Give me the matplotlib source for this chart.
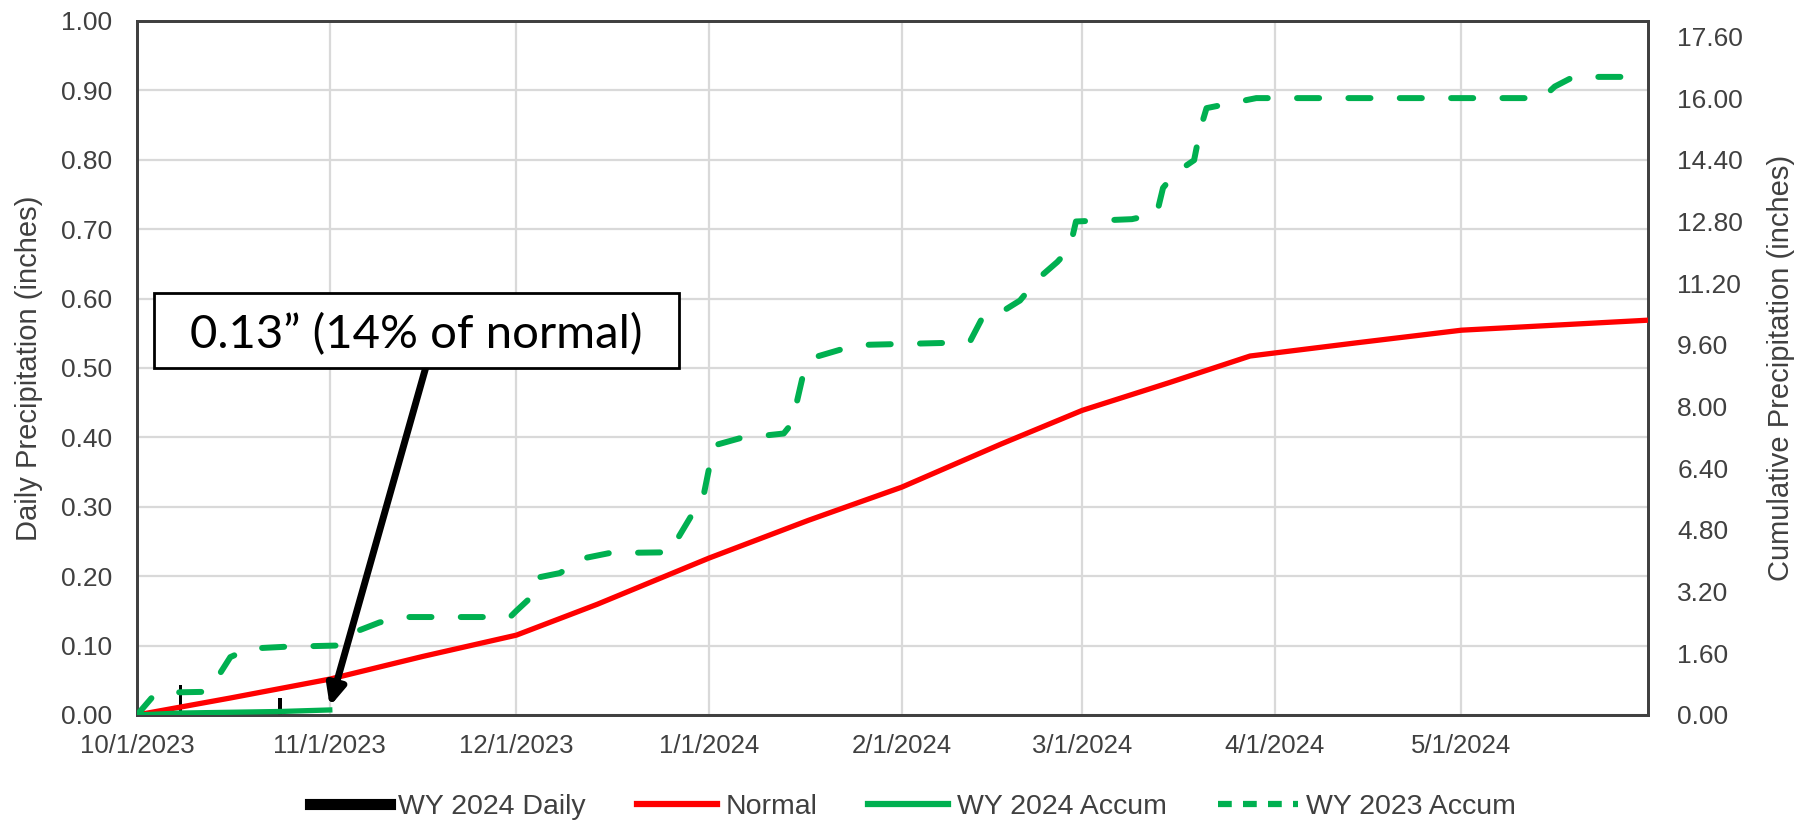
import matplotlib
import matplotlib.pyplot as plt
import pandas as pd
from matplotlib.lines import Line2D
from matplotlib.patches import Rectangle

matplotlib.use('Agg')

plt.rcParams['font.family'] = ['Liberation Sans', 'DejaVu Sans']

# days since 10/1/2023
start = pd.Timestamp('2023-10-01')
end = pd.Timestamp('2024-05-31')

month_ticks = ['2023-10-01', '2023-11-01', '2023-12-01', '2024-01-01',
               '2024-02-01', '2024-03-01', '2024-04-01', '2024-05-01']
month_labels = ['10/1/2023', '11/1/2023', '12/1/2023', '1/1/2024',
                '2/1/2024', '3/1/2024', '4/1/2024', '5/1/2024']

daily_days = [7, 23]
daily_vals = [0.043, 0.024]

normal_days = [0, 15, 31, 46, 61, 74, 92, 108, 123, 139, 152, 166, 179, 196, 213, 243]
normal_vals = [0, 0.44, 0.93, 1.52, 2.07, 2.87, 4.07, 5.05, 5.91, 7.03, 7.9, 8.62,
               9.31, 9.65, 9.98, 10.24]

wy24_days = [0, 7, 23, 31]
wy24_vals = [0, 0.05, 0.09, 0.13]

wy23_days = [0, 2.5, 4, 11, 13, 15, 18, 24, 32, 35, 39, 43, 60, 61, 63, 64, 68, 72,
             76, 86, 87, 89, 91, 92, 93, 97, 104, 105, 106, 107, 109, 113, 117, 130,
             134, 136, 139, 142, 145, 148, 150, 151, 160, 164, 165, 167, 170, 171,
             172, 176, 180, 226, 228, 231, 243]
wy23_vals = [0, 0.47, 0.58, 0.6, 0.99, 1.5, 1.72, 1.77, 1.8, 2.15, 2.4, 2.54, 2.54,
             2.7, 3.0, 3.55, 3.68, 4.07, 4.2, 4.22, 4.59, 5.13, 5.6, 6.4, 7.0, 7.18,
             7.3, 7.5, 8.04, 8.74, 9.28, 9.47, 9.6, 9.65, 9.7, 10.32, 10.45, 10.75,
             11.33, 11.75, 12.1, 12.8, 12.86, 13.0, 13.67, 14.06, 14.39, 15.2, 15.74,
             15.87, 16.0, 16.0, 16.3, 16.55, 16.55]

left_ticks = [0, 0.1, 0.2, 0.3, 0.4, 0.5, 0.6, 0.7, 0.8, 0.9, 1.0]
right_ticks = [0, 1.6, 3.2, 4.8, 6.4, 8.0, 9.6, 11.2, 12.8, 14.4, 16.0, 17.6]

green = '#00B050'
grid_c = '#d9d9d9'
spine_c = '#404040'


def to_dates(days):
    return start + pd.to_timedelta(days, unit='D')


fig = plt.figure(figsize=(18.15, 8.33), dpi=100)
ax = fig.add_axes([0.0755, 0.1417, 0.8325, 0.8331])
ax2 = ax.twinx()

ax.bar(to_dates(daily_days), daily_vals, width=0.5, color='black', zorder=3)

ax2.plot(to_dates(normal_days), normal_vals, color='red', lw=3.8, zorder=3)
ax2.plot(to_dates(wy24_days), wy24_vals, color=green, lw=3.8, zorder=4)
ax2.plot(to_dates(wy23_days), wy23_vals, color=green, lw=4.3,
         linestyle=(0, (3.7, 4.9)), dash_capstyle='round', zorder=3)

ax.set_xlim(start, end)
ax.set_ylim(0, 1.0)
ax2.set_ylim(0, 18.0)

ax.set_xticks(pd.to_datetime(month_ticks))
ax.set_xticklabels(month_labels)
ax.set_yticks(left_ticks)
ax.set_yticklabels(['%.2f' % v for v in left_ticks])
ax2.set_yticks(right_ticks)
ax2.set_yticklabels(['%.2f' % v for v in right_ticks])

ax.tick_params(axis='x', length=0, pad=14, labelsize=18.5, colors='#404040')
ax.tick_params(axis='y', length=0, pad=18, labelsize=19, colors='#404040')
ax2.tick_params(axis='y', length=0, pad=21, labelsize=19, colors='#404040')

ax.grid(True, color=grid_c, lw=1.6, zorder=0)
ax.set_axisbelow(True)

for a in (ax, ax2):
    for s in a.spines.values():
        s.set_color(spine_c)
        s.set_linewidth(2)

ax.set_ylabel('Daily Precipitation (inches)', fontsize=21, color='#404040')
ax.yaxis.set_label_coords(-0.062, 0.5)
ax2.set_ylabel('Cumulative Precipitation (inches)', fontsize=21, color='#404040',
               rotation=90)
ax2.yaxis.set_label_coords(1.079, 0.5)

# callout box and arrow
box = Rectangle((0.0113, 0.5), 0.3474, 0.108, transform=ax2.transAxes,
                facecolor='white', edgecolor='black', lw=2, zorder=10)
ax2.add_patch(box)
ax2.text(0.185, 0.548, '0.13\u201d (14% of normal)', transform=ax2.transAxes,
         ha='center', va='center', fontsize=34, family=['Lato', 'DejaVu Sans'],
         color='black', zorder=11)
ax2.annotate('', xy=(to_dates(31), 0.22), xycoords='data',
             xytext=(0.191, 0.5), textcoords='axes fraction',
             arrowprops=dict(arrowstyle='-|>,head_length=1.2,head_width=0.55',
                             color='black', lw=5, shrinkA=0, shrinkB=0),
             zorder=9)

handles = [Line2D([], [], color='black', lw=8),
           Line2D([], [], color='red', lw=4.5),
           Line2D([], [], color=green, lw=4.5),
           Line2D([], [], color=green, lw=4.5, linestyle=(0, (2.2, 1.8)))]
labels = ['WY 2024 Daily', 'Normal', 'WY 2024 Accum', 'WY 2023 Accum']
fig.legend(handles, labels, loc='lower center', bbox_to_anchor=(0.503, -0.015),
           ncol=4, frameon=False, fontsize=20.5, handlelength=2.8,
           handletextpad=0.3, columnspacing=1.8, labelcolor='#404040')

fig.savefig('out.png', dpi=100)
